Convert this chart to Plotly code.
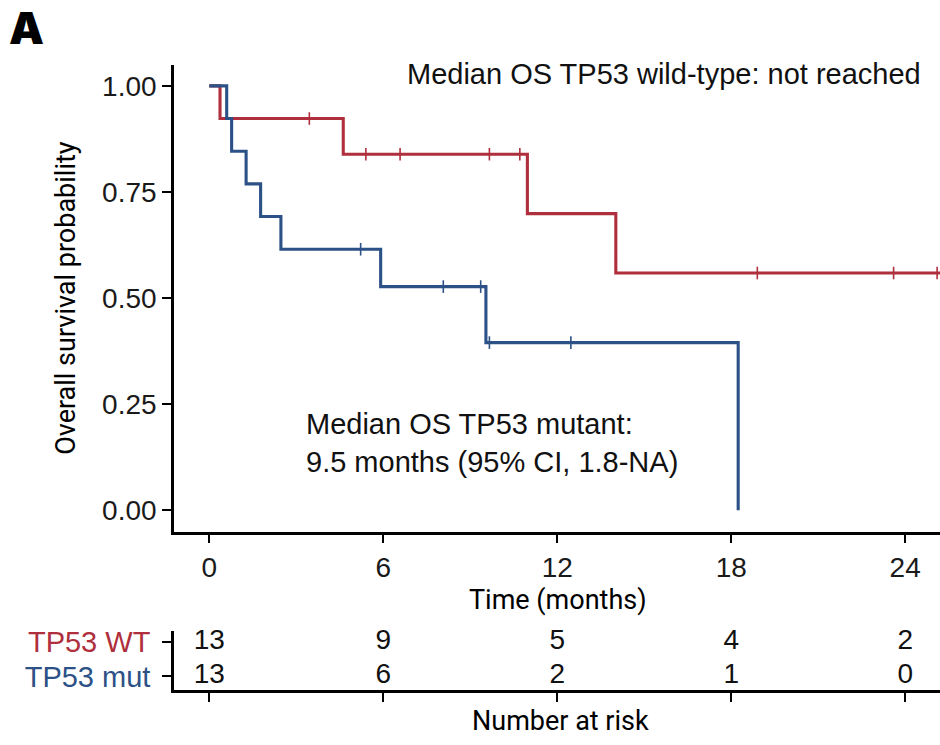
import plotly.graph_objects as go

# Kaplan-Meier step data (months, survival probability)
wt_time = [0, 0.37, 4.62, 10.97, 14.02, 25.6]
wt_surv = [1.0, 0.923, 0.839, 0.699, 0.559, 0.559]
wt_censor = [3.45, 5.40, 6.58, 9.66, 10.71, 18.9, 23.6, 25.1]

mut_time = [0, 0.60, 0.77, 1.27, 1.77, 2.47, 5.91, 9.54, 18.24]
mut_surv = [1.0, 0.923, 0.846, 0.769, 0.692, 0.615, 0.527, 0.395, 0.0]
mut_censor = [5.22, 8.07, 9.36, 9.66, 12.47]

# Number-at-risk table
risk_times = [0, 6, 12, 18, 24]
risk_wt = [13, 9, 5, 4, 2]
risk_mut = [13, 6, 2, 1, 0]

group_labels = ["TP53 WT", "TP53 mut"]
x_ticks = [0, 6, 12, 18, 24]
y_ticks = [0.0, 0.25, 0.50, 0.75, 1.00]

RED = "#AF2F3D"
BLUE = "#2C5186"
TEXT_FONT = "Liberation Sans, Arial, Helvetica, sans-serif"
TITLE_FONT = "Roboto, Liberation Sans, sans-serif"


def step_value(times, surv, t):
    """Survival value of a right-continuous step function at time t."""
    val = surv[0]
    for ti, si in zip(times, surv):
        if ti <= t:
            val = si
    return val


fig = go.Figure()

for times, surv, cens, color in [
    (wt_time, wt_surv, wt_censor, RED),
    (mut_time, mut_surv, mut_censor, BLUE),
]:
    fig.add_trace(go.Scatter(
        x=times, y=surv, mode="lines", line=dict(shape="hv", color=color, width=3.1),
        hoverinfo="skip", xaxis="x", yaxis="y", showlegend=False,
    ))
    fig.add_trace(go.Scatter(
        x=cens, y=[step_value(times, surv, t) for t in cens], mode="markers",
        marker=dict(symbol="line-ns", size=9, line=dict(color=color, width=1.6)),
        hoverinfo="skip", xaxis="x", yaxis="y", showlegend=False, cliponaxis=False,
    ))

# risk table rows: WT on top (y=2), mutant below (y=1)
for row_y, counts in [(2, risk_wt), (1, risk_mut)]:
    fig.add_trace(go.Scatter(
        x=risk_times, y=[row_y] * len(risk_times), mode="text",
        text=[str(v) for v in counts],
        textfont=dict(family=TEXT_FONT, size=28, color="#111"),
        textposition="middle center",
        xaxis="x2", yaxis="y2", showlegend=False, hoverinfo="skip", cliponaxis=False,
    ))

x_range = [-1.217, 25.2]
axis_common = dict(showgrid=False, zeroline=False, showline=True, linecolor="black",
                   linewidth=2.6, ticks="outside", tickcolor="black", tickwidth=2,
                   ticklen=9)

fig.update_layout(
    width=940, height=745,
    margin=dict(l=174, r=0, t=0, b=0),
    paper_bgcolor="white", plot_bgcolor="white",
    xaxis=dict(domain=[0, 1], range=x_range, tickvals=x_ticks, anchor="y",
               tickfont=dict(family=TEXT_FONT, size=28, color="#1a1a1a"), **axis_common),
    yaxis=dict(domain=[0.2855, 0.9185], range=[-0.0503, 1.049], tickvals=y_ticks,
               ticktext=[f"{v:.2f}" for v in y_ticks], anchor="x",
               tickfont=dict(family=TEXT_FONT, size=28, color="#1a1a1a"), **axis_common),
    xaxis2=dict(domain=[0, 1], range=x_range, tickvals=x_ticks, showticklabels=False,
                anchor="y2", **axis_common),
    yaxis2=dict(domain=[0.0707, 0.1507], range=[0.608, 2.326], tickvals=[2, 1],
                ticktext=[f'<span style="color:{RED}">{group_labels[0]}</span>',
                          f'<span style="color:{BLUE}">{group_labels[1]}</span>'],
                ticklabelstandoff=6,
                tickfont=dict(family=TEXT_FONT, size=29), anchor="x2", **axis_common),
)

annotations = [
    dict(text="A", xref="paper", yref="paper", x=-0.218, y=1.008, xanchor="left",
         yanchor="top", showarrow=False,
         font=dict(family="Inter, Liberation Sans, sans-serif", size=44, color="black",
                   weight=900)),
    dict(text="Overall survival probability", xref="paper", yref="paper",
         x=-0.141, y=1 - 296 / 745, textangle=-90, showarrow=False,
         xanchor="center", yanchor="middle",
         font=dict(family=TITLE_FONT, size=27, color="black")),
    dict(text="Time (months)", xref="paper", yref="paper", x=(558 - 174) / 766,
         y=1 - 601 / 745, showarrow=False, xanchor="center", yanchor="middle",
         font=dict(family=TITLE_FONT, size=27, color="black")),
    dict(text="Number at risk", xref="paper", yref="paper", x=(560 - 174) / 766,
         y=1 - 724 / 745, showarrow=False, xanchor="center", yanchor="middle",
         font=dict(family=TITLE_FONT, size=27, color="black")),
    dict(text="Median OS TP53 wild-type: not reached", xref="x", yref="y",
         x=6.76, y=1.027, showarrow=False, xanchor="left", yanchor="middle",
         font=dict(family=TEXT_FONT, size=29, color="#111")),
    dict(text="Median OS TP53 mutant:<br>9.5 months (95% CI, 1.8-NA)", xref="x", yref="y",
         x=3.27, y=0.158, showarrow=False, xanchor="left", yanchor="middle", align="left",
         font=dict(family=TEXT_FONT, size=29, color="#111")),
]
fig.update_layout(annotations=annotations)

fig.write_html("out.html")
